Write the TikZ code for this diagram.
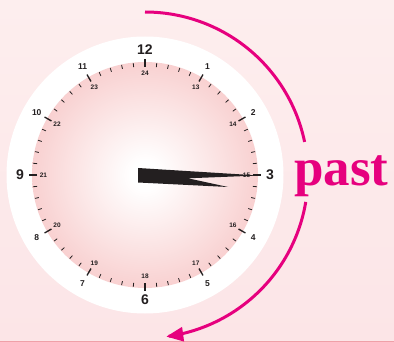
\documentclass[tikz,border=0pt]{standalone}
\usepackage{fontspec}
\setmainfont{Liberation Sans}
\newfontfamily\pastfont{Liberation Serif}
\usetikzlibrary{arrows.meta}
\definecolor{bgtop}{RGB}{253,238,238}
\definecolor{bgbot}{RGB}{252,229,231}
\definecolor{facepink}{RGB}{241,168,170}
\definecolor{facemid}{RGB}{247,198,198}
\definecolor{mag}{RGB}{230,0,126}
\definecolor{ink}{RGB}{35,31,32}
\definecolor{bottomline}{RGB}{240,160,168}
\pgfdeclareradialshading{clockface}{\pgfpoint{0bp}{0bp}}{color(0bp)=(white); color(3bp)=(white); color(30bp)=(facemid); color(50bp)=(facepink)}
\tikzset{
  minortick/.style={draw=ink, line width=0.8pt},
  majortick/.style={draw=ink, line width=1.3pt},
  bignum/.style={text=ink, font=\bfseries\fontsize{14}{14}\selectfont, inner sep=0pt},
  outnum/.style={text=ink, font=\bfseries\fontsize{8.5}{8.5}\selectfont, inner sep=0pt},
  innum/.style={text=ink, font=\bfseries\fontsize{6.5}{6.5}\selectfont, inner sep=0pt},
  arcline/.style={draw=mag, line width=3pt},
}
\begin{document}
\begin{tikzpicture}[x=1pt,y=-1pt]
\useasboundingbox (0,0) rectangle (394,342);
\shade[top color=bgtop,bottom color=bgbot] (0,0) rectangle (394,342);
\draw[draw=bottomline, line width=1.2pt] (0,341.4) -- (394,341.4);
\coordinate (c) at (145,175);
\fill[white] (c) circle (138.5pt);
\shade[shading=clockface] (c) circle (113pt);
% minute ticks
\foreach \a in {0,6,...,354}
  \draw[minortick] ({145+108.5*sin(\a)},{175-108.5*cos(\a)}) -- ({145+112.5*sin(\a)},{175-112.5*cos(\a)});
% hour ticks
\foreach \a in {0,30,...,330}
  \draw[majortick] ({145+108*sin(\a)},{175-108*cos(\a)}) -- ({145+116*sin(\a)},{175-116*cos(\a)});
% outer numbers
\foreach \n in {1,2,4,5,7,8,10,11}
  \node[outnum] (h\n) at ({145+125*sin(30*\n)},{175-125*cos(30*\n)}) {\n};
\foreach \n in {3,6,9,12}
  \node[bignum] (h\n) at ({145+125*sin(30*\n)},{175-125*cos(30*\n)}) {\n};
% inner numbers
\foreach \n in {13,...,24}
  \node[innum] (i\n) at ({145+101.5*sin(30*(\n-12))},{175-101.5*cos(30*(\n-12))}) {\n};
% hands
\fill[ink] (138,168) -- (259,175.5) -- (188,178.3) -- (228,187) -- (138,182.5) -- cycle;
% arrow arc
\draw[arcline] plot[domain=0:78.3,samples=80] ({145+163*sin(\x)},{175-163*cos(\x)});
\draw[arcline,-{Triangle[length=17pt,width=14pt]}] plot[domain=99.5:172.5,samples=80] ({145+163*sin(\x)},{175-163*cos(\x)});
\node[text=mag, font=\pastfont\bfseries\fontsize{53}{53}\selectfont, anchor=base west, inner sep=0pt] (past) at (294,186) {past};
\end{tikzpicture}
\end{document}
